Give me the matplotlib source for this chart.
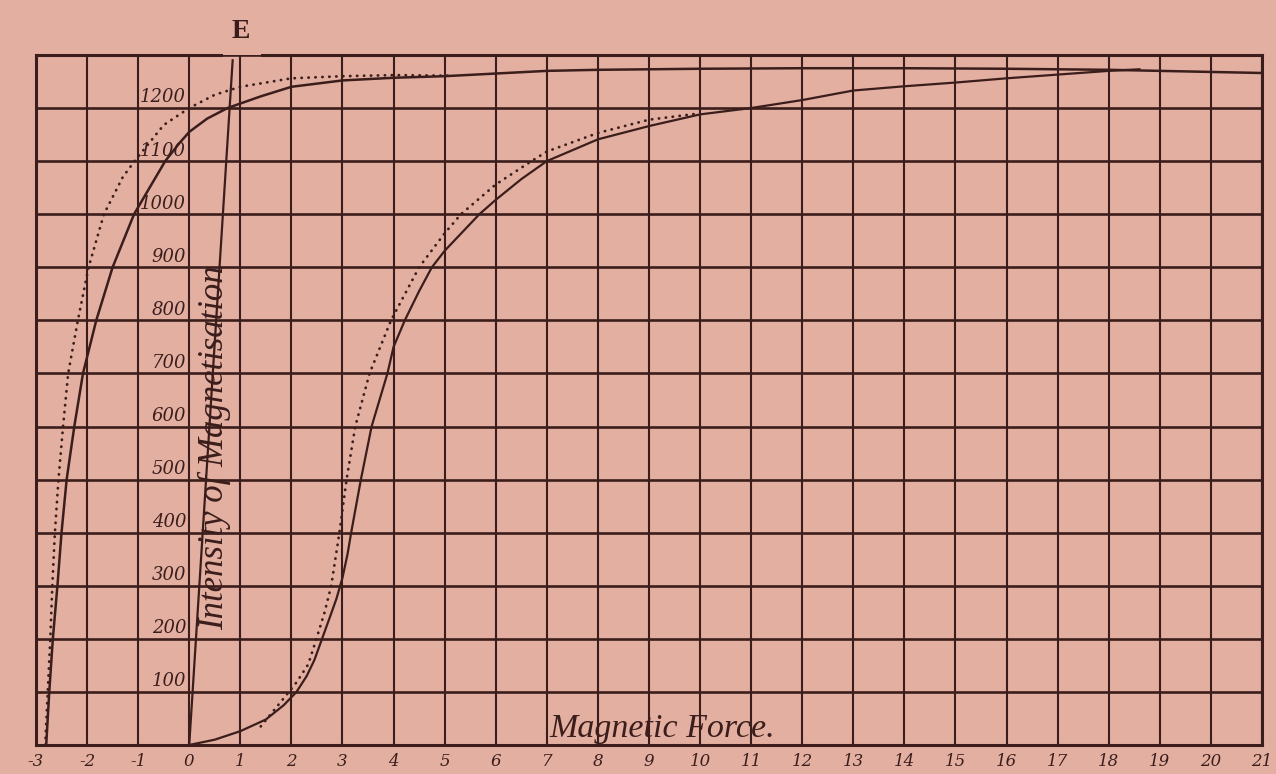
import matplotlib.pyplot as plt

# Colores del papel y de la tinta
papel = '#E3AFA1'
tinta = '#3B1E1C'

# Escalas de la cuadrícula
fuerza_ticks = list(range(-3, 22))
etiquetas_x = [str(v) for v in fuerza_ticks]
niveles_y = list(range(100, 1300, 100))

# Rama descendente (trazo continuo) con su meseta superior
desc_x = [-2.80, -2.74, -2.67, -2.58, -2.50, -2.40, -2.25, -2.08, -1.82, -1.50,
          -1.08, -0.80, -0.47, -0.20, 0.0, 0.35, 0.75, 1.40, 2.0, 3.0, 4.0, 5.0,
          6.0, 7.0, 8.0, 10.0, 12.0, 14.0, 16.0, 18.0, 20.0, 21.0]
desc_y = [0, 100, 200, 300, 400, 500, 600, 700, 800, 900,
          1000, 1046, 1100, 1133, 1155, 1180, 1200, 1222, 1240, 1252, 1257, 1260,
          1265, 1270, 1272, 1274, 1275, 1275, 1274, 1272, 1268, 1266]

# Rama descendente (punteada)
desc_pt_x = [-2.82, -2.77, -2.72, -2.68, -2.63, -2.56, -2.47, -2.37, -2.18, -1.97,
             -1.67, -1.30, -1.07, -0.50, 0.0, 0.5, 1.0, 2.0, 3.0, 4.0, 5.1]
desc_pt_y = [0, 100, 200, 300, 400, 500, 600, 700, 800, 900,
             1000, 1070, 1100, 1168, 1200, 1225, 1240, 1256, 1260, 1262, 1261]

# Rama ascendente (trazo continuo)
asc_x = [0.0, 0.5, 1.0, 1.5, 1.85, 2.1, 2.3, 2.45, 2.6, 2.75, 2.88, 3.0, 3.1, 3.17,
         3.36, 3.57, 3.88, 4.0, 4.22, 4.5, 4.75, 5.0, 5.68, 6.0, 6.5, 7.0, 8.0, 9.0,
         10.0, 11.0, 12.0, 13.0, 14.0, 15.0, 16.0, 17.0, 18.0, 18.6]
asc_y = [0, 10, 26, 48, 75, 100, 130, 160, 200, 240, 275, 315, 360, 400,
         500, 600, 700, 750, 800, 855, 900, 931, 1000, 1027, 1066, 1100, 1141, 1166,
         1188, 1200, 1215, 1233, 1241, 1248, 1256, 1263, 1270, 1273]

# Rama ascendente (punteada)
asc_pt_x = [1.4, 1.85, 2.1, 2.33, 2.49, 2.65, 2.78, 2.94, 3.08, 3.25, 3.53, 3.95,
            4.5, 5.0, 5.32, 6.0, 6.7, 7.0, 8.0, 9.0, 10.0]
asc_pt_y = [35, 88, 118, 152, 200, 250, 300, 400, 500, 600, 700, 800,
            900, 964, 1000, 1056, 1100, 1118, 1153, 1178, 1190]

# Recta E desde el origen
linea_e_x = [0.0, 0.85]
linea_e_y = [0, 1290]

fig = plt.figure(figsize=(12.76, 7.74), dpi=100, facecolor=papel)
ax = fig.add_axes([0.0282, 0.0375, 0.9608, 0.8915])
ax.set_facecolor(papel)
ax.set_xlim(-3, 21)
ax.set_ylim(0, 1300)

# Cuadrícula
ax.set_xticks(fuerza_ticks)
ax.set_xticklabels(etiquetas_x, fontsize=12, style='italic', family='DejaVu Serif',
                   color=tinta)
ax.set_yticks([0] + niveles_y + [1300])
ax.set_yticklabels([])
ax.tick_params(length=0, pad=6)
ax.grid(True, axis='x', color=tinta, linewidth=1.5)
ax.grid(True, axis='y', color=tinta, linewidth=1.9)
for lado in ['left', 'right', 'bottom']:
    ax.spines[lado].set_color(tinta)
    ax.spines[lado].set_linewidth(2.2)
ax.spines['top'].set_visible(False)

# Borde superior con el hueco de la letra E
hueco_e = (0.62, 1.42)
ax.plot([-3, hueco_e[0]], [1300, 1300], color=tinta, lw=2.2, clip_on=False)
ax.plot([hueco_e[1], 21], [1300, 1300], color=tinta, lw=2.2, clip_on=False)

# Curvas
ax.plot(desc_x, desc_y, color=tinta, lw=1.8)
ax.plot(asc_x, asc_y, color=tinta, lw=1.6)
punteado = (0, (0.1, 2.4))
ax.plot(desc_pt_x, desc_pt_y, color=tinta, lw=2.0, ls=punteado, dash_capstyle='round')
ax.plot(asc_pt_x, asc_pt_y, color=tinta, lw=2.0, ls=punteado, dash_capstyle='round')
ax.plot(linea_e_x, linea_e_y, color=tinta, lw=1.6, clip_on=False)

# Etiquetas del eje vertical, dentro de la cuadrícula
for v in niveles_y:
    ax.text(-0.06, v + 3, str(v), ha='right', va='bottom', fontsize=13,
            style='italic', family='DejaVu Serif', color=tinta)

# Títulos
ax.text(0.5, 560, 'Intensity of Magnetisation', rotation=90, ha='center', va='center',
        fontsize=25, style='italic', family='Liberation Serif', color=tinta)
ax.text(7.05, 15, 'Magnetic Force.', ha='left', va='baseline',
        fontsize=24.5, style='italic', family='Liberation Serif', color=tinta)
ax.text(1.0, 1345, 'E', ha='center', va='center', fontsize=20, fontweight='bold',
        family='Liberation Serif', color=tinta, clip_on=False)

fig.savefig('out.png', dpi=100, facecolor=papel)
